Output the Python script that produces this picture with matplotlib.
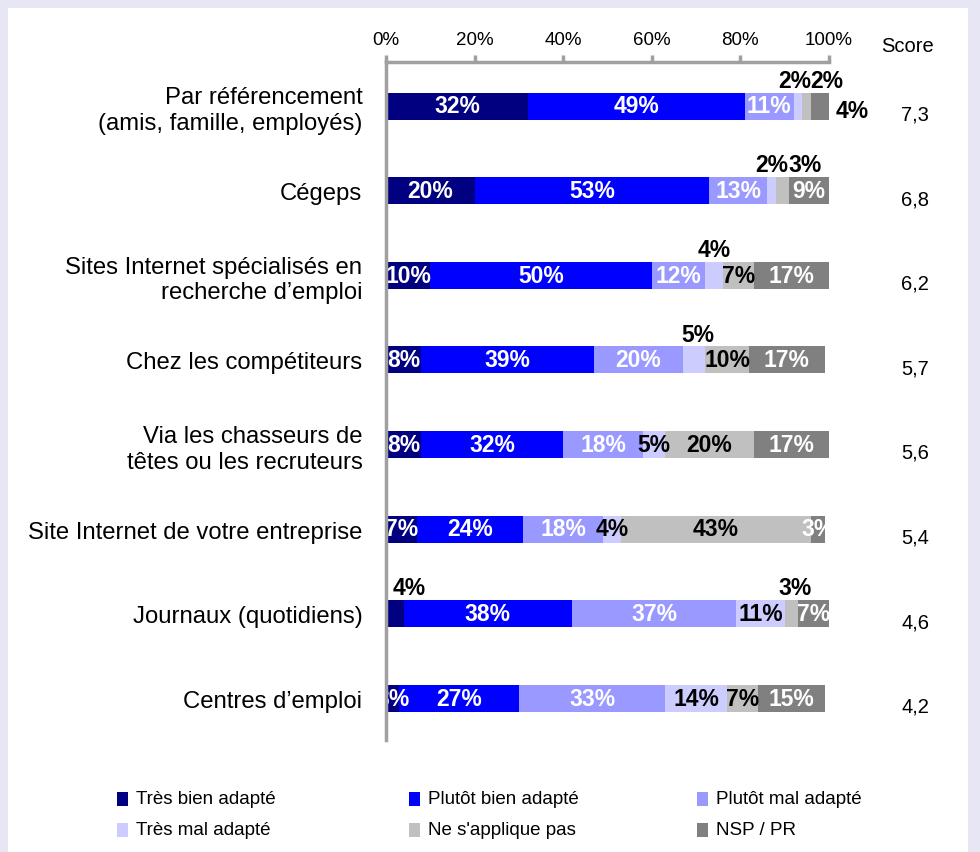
import matplotlib.pyplot as plt
from matplotlib.patches import Rectangle

plt.rcParams['font.family'] = ['Liberation Sans', 'DejaVu Sans']

categories = [
    "Par référencement\n(amis, famille, employés)",
    "Cégeps",
    "Sites Internet spécialisés en\nrecherche d\u2019emploi",
    "Chez les compétiteurs",
    "Via les chasseurs de\ntêtes ou les recruteurs",
    "Site Internet de votre entreprise",
    "Journaux (quotidiens)",
    "Centres d\u2019emploi",
]
scores = ["7,3", "6,8", "6,2", "5,7", "5,6", "5,4", "4,6", "4,2"]

series_names = ["Très bien adapté", "Plutôt bien adapté", "Plutôt mal adapté",
                "Très mal adapté", "Ne s'applique pas", "NSP / PR"]
tres_bien = [32, 20, 10, 8, 8, 7, 4, 3]
plutot_bien = [49, 53, 50, 39, 32, 24, 38, 27]
plutot_mal = [11, 13, 12, 20, 18, 18, 37, 33]
tres_mal = [2, 2, 4, 5, 5, 4, 11, 14]
ne_s_applique = [2, 3, 7, 10, 20, 43, 3, 7]
nsp = [4, 9, 17, 17, 17, 3, 7, 15]
series = [tres_bien, plutot_bien, plutot_mal, tres_mal, ne_s_applique, nsp]

colors = ["#000080", "#0000FF", "#9999FF", "#CCCCFF", "#C0C0C0", "#808080"]
label_colors = ["white", "white", "white", "black", "black", "white"]

# small values placed above the bar: (row, series) -> x shift in %
above = {(0, 3): -0.7, (0, 4): 4.5, (1, 3): 0.0, (1, 4): 5.2,
         (2, 3): 0.0, (3, 3): 1.0, (6, 0): 3.2, (6, 4): 0.8}
# values placed to the right of the bar
beside = {(0, 5)}

W, H = 980, 853
fig = plt.figure(figsize=(W / 100, H / 100), dpi=100, facecolor="#E6E6F5")
fig.patches.append(Rectangle((8 / W, 0), 960 / W, (H - 9) / H,
                             transform=fig.transFigure, facecolor="white",
                             edgecolor="none", zorder=-10))

ax_left, ax_right = 386, 829
ax_top, ax_bottom = 63, 741
ax = fig.add_axes([ax_left / W, 1 - ax_bottom / H,
                   (ax_right - ax_left) / W, (ax_bottom - ax_top) / H])
ax.set_facecolor("none")

row_gap = 84.6
first_center = 107
ax.set_xlim(0, 100)
ax.set_ylim((ax_bottom - first_center) / row_gap, (ax_top - first_center) / row_gap)

bar_h = 27 / row_gap
lab_size = 16.5
rows = range(len(categories))
lefts = [0] * len(categories)
for k, vals in enumerate(series):
    ax.barh(rows, vals, left=lefts, height=bar_h, color=colors[k],
            edgecolor="none", zorder=2)
    for i, v in enumerate(vals):
        cx = lefts[i] + v / 2
        txt = f"{v}%"
        if (i, k) in above:
            ax.annotate(txt, (cx + above[(i, k)], i - bar_h / 2),
                        xytext=(0, 0.5), textcoords="offset points",
                        ha="center", va="bottom", fontsize=lab_size,
                        fontweight="bold", color="black", zorder=4,
                        annotation_clip=False)
        elif (i, k) in beside:
            ax.annotate(txt, (lefts[i] + v, i), xytext=(5, -3),
                        textcoords="offset points", ha="left", va="center",
                        fontsize=lab_size, fontweight="bold", color="black",
                        zorder=4, annotation_clip=False)
        else:
            ax.text(cx, i, txt, ha="center", va="center", fontsize=lab_size,
                    fontweight="bold", color=label_colors[k], zorder=3)
    lefts = [a + b for a, b in zip(lefts, vals)]

# score column on the right
for i, s in enumerate(scores):
    ax.annotate(s, (0, i), xycoords=("figure fraction", "data"),
                xytext=(915, -8), textcoords="offset pixels",
                ha="center", va="center", fontsize=14.5,
                annotation_clip=False)
fig.text(908 / W, 1 - 46 / H, "Score", ha="center", va="center", fontsize=14.5)

# axes styling: percent scale on top, grey spines
ax.xaxis.tick_top()
ax.set_xticks(range(0, 101, 20))
ax.set_xticklabels([f"{t}%" for t in range(0, 101, 20)], fontsize=13.5)
ax.tick_params(axis="x", direction="out", length=5, width=2.5,
               color="#A0A0A0", pad=5)
ax.set_yticks(list(rows))
ax.set_yticklabels(categories, fontsize=17.2, linespacing=1.22)
ax.tick_params(axis="y", length=0, pad=17)
for side in ("right", "bottom"):
    ax.spines[side].set_visible(False)
for side in ("top", "left"):
    ax.spines[side].set_color("#A0A0A0")
    ax.spines[side].set_linewidth(2.5)
    ax.spines[side].set_zorder(5)

# legend drawn as two rows of three entries
col_x = [117, 409, 697]
row_y = [800, 831]
for idx, name in enumerate(series_names):
    x = col_x[idx % 3]
    y = row_y[idx // 3]
    fig.patches.append(Rectangle((x / W, 1 - (y + 7) / H), 11 / W, 14 / H,
                                 transform=fig.transFigure,
                                 facecolor=colors[idx], edgecolor="none"))
    fig.text((x + 19) / W, 1 - y / H, name, ha="left", va="center",
             fontsize=13.5)

fig.savefig("out.png", dpi=100, facecolor=fig.get_facecolor())
